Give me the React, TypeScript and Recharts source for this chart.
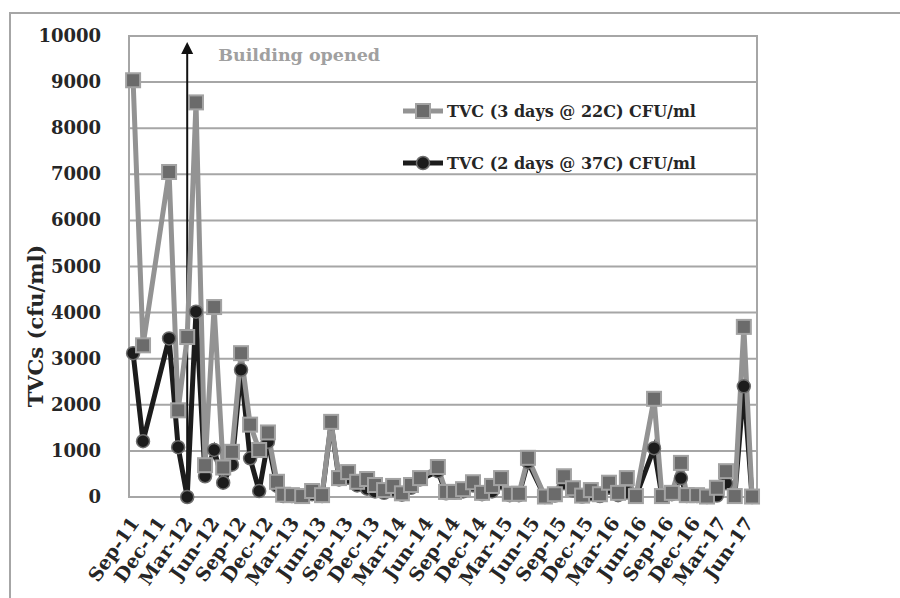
import {
  LineChart,
  Line,
  XAxis,
  YAxis,
  CartesianGrid,
  ReferenceArea,
  ReferenceLine,
} from "recharts";

// sample dates (approx)
const sampleDates = [
  "2011-09-15", "2011-10-19", "2012-01-16", "2012-02-16", "2012-03-18",
  "2012-04-17", "2012-05-18", "2012-06-18", "2012-07-19", "2012-08-18",
  "2012-09-18", "2012-10-19", "2012-11-19", "2012-12-19", "2013-01-19",
  "2013-02-09", "2013-03-11", "2013-04-15", "2013-05-19", "2013-06-22",
  "2013-07-23", "2013-08-19", "2013-09-19", "2013-10-20", "2013-11-23",
  "2013-12-20", "2014-01-20", "2014-02-20", "2014-03-22", "2014-04-22",
  "2014-05-23", "2014-07-23", "2014-08-20", "2014-09-16", "2014-10-17",
  "2014-11-20", "2014-12-21", "2015-01-24", "2015-02-24", "2015-03-26",
  "2015-04-26", "2015-05-27", "2015-07-24", "2015-08-27", "2015-09-27",
  "2015-10-28", "2015-11-28", "2015-12-28", "2016-01-28", "2016-02-28",
  "2016-03-30", "2016-04-29", "2016-05-30", "2016-07-31", "2016-08-27",
  "2016-09-30", "2016-10-31", "2016-11-20", "2016-12-25", "2017-01-28",
  "2017-03-03", "2017-04-03", "2017-05-03", "2017-06-03", "2017-07-01",
];

// TVC (3 days @ 22C) CFU/ml
const tvc22 = [
  9040, 3290, 7050, 1880, 3470, 8560, 690, 4120, 640, 980,
  3120, 1570, 1020, 1400, 330, 50, 40, 20, 130, 40,
  1630, 410, 540, 330, 390, 260, 150, 240, 80, 260,
  410, 650, 110, 110, 170, 320, 90, 240, 410, 70,
  70, 850, 10, 60, 450, 190, 30, 150, 60, 310,
  90, 410, 20, 2130, 20, 90, 740, 40, 40, 10,
  200, 560, 20, 3690, 10,
];

// TVC (2 days @ 37C) CFU/ml
const tvc37 = [
  3120, 1210, 3440, 1080, 0, 4020, 450, 1020, 310, 700,
  2760, 840, 130, 1200, 240, 20, 20, 10, 60, 20,
  1600, 380, 420, 250, 180, 120, 90, 150, 50, 200,
  380, 560, 80, 90, 120, 250, 60, 120, 300, 40,
  40, 760, 0, 30, 300, 140, 10, 60, 20, 200,
  40, 100, 10, 1060, 10, 60, 410, 20, 20, 0,
  30, 300, 10, 2400, 0,
];

const tickLabels = [
  "Sep-11", "Dec-11", "Mar-12", "Jun-12", "Sep-12", "Dec-12", "Mar-13", "Jun-13",
  "Sep-13", "Dec-13", "Mar-14", "Jun-14", "Sep-14", "Dec-14", "Mar-15", "Jun-15",
  "Sep-15", "Dec-15", "Mar-16", "Jun-16", "Sep-16", "Dec-16", "Mar-17", "Jun-17",
];

const yTicks = [0, 1000, 2000, 3000, 4000, 5000, 6000, 7000, 8000, 9000, 10000];

const buildingOpened = "2012-03-18";

const MONTHS = ["Jan", "Feb", "Mar", "Apr", "May", "Jun", "Jul", "Aug", "Sep", "Oct", "Nov", "Dec"];
const DAY = 86400000;
const FONT = "'DejaVu Serif', serif";
const GRID = "#a6a6a6";
const GRAY_LINE = "#939393";
const GRAY_FILL = "#6b6b6b";
const BLACK = "#1c1c1c";

function labelToTime(label: string) {
  const [mon, yy] = label.split("-");
  return Date.UTC(2000 + Number(yy), MONTHS.indexOf(mon), 15);
}

const xTicks = tickLabels.map(labelToTime);
const tStart = Date.parse(sampleDates[0]);
const domainX = [tStart - 14 * DAY, tStart + 2133 * DAY];

const data = sampleDates.map((d, i) => ({
  t: Date.parse(d),
  tvc22: tvc22[i],
  tvc37: tvc37[i],
}));

function formatTick(t: number) {
  const d = new Date(t);
  return `${MONTHS[d.getUTCMonth()]}-${String(d.getUTCFullYear()).slice(2)}`;
}

function XTick(props: any) {
  const { x, y, payload } = props;
  const ax = x + 7;
  const ay = y + 24;
  return (
    <text
      x={ax}
      y={ay}
      transform={`rotate(-55, ${ax}, ${ay})`}
      textAnchor="end"
      fontFamily={FONT}
      fontWeight="bold"
      fontSize={19}
      fill="#262626"
    >
      {formatTick(payload.value)}
    </text>
  );
}

function YTick(props: any) {
  const { y, payload } = props;
  return (
    <text
      x={101}
      y={y}
      dy={6}
      textAnchor="end"
      fontFamily={FONT}
      fontWeight="bold"
      fontSize={18}
      fill="#262626"
    >
      {payload.value}
    </text>
  );
}

function SquareDot(props: any) {
  const { cx, cy, index } = props;
  if (cx == null || cy == null) return null;
  return (
    <rect
      key={`sq-${index}`}
      x={cx - 7}
      y={cy - 7}
      width={14}
      height={14}
      fill={GRAY_FILL}
      stroke="#a3a3a3"
      strokeWidth={2}
    />
  );
}

function Arrow(props: any) {
  const { x1, y1, y2 } = props;
  const top = Math.min(y1, y2);
  const bottom = Math.max(y1, y2);
  return (
    <g>
      <line x1={x1} x2={x1} y1={bottom} y2={top + 10} stroke="#111" strokeWidth={2} />
      <polygon
        points={`${x1},${top} ${x1 - 6},${top + 12} ${x1 + 6},${top + 12}`}
        fill="#111"
      />
      <text
        x={x1 + 31}
        y={top + 19}
        fontFamily={FONT}
        fontWeight="bold"
        fontSize={17.5}
        fill="#a0a0a0"
      >
        Building opened
      </text>
    </g>
  );
}

function LegendBox() {
  const rows = [
    { label: "TVC (3 days @ 22C) CFU/ml", top: 0, square: true },
    { label: "TVC (2 days @ 37C) CFU/ml", top: 52, square: false },
  ];
  return (
    <div style={{ position: "absolute", left: 401, top: 101, width: 360, height: 70 }}>
      {rows.map((r) => (
        <div
          key={r.label}
          style={{
            position: "absolute",
            top: r.top,
            left: 0,
            display: "flex",
            alignItems: "center",
            height: 20,
          }}
        >
          <svg width={46} height={20}>
            <line
              x1={2}
              x2={42}
              y1={10}
              y2={10}
              stroke={r.square ? GRAY_LINE : BLACK}
              strokeWidth={5}
            />
            {r.square ? (
              <rect x={15} y={3} width={14} height={14} fill={GRAY_FILL} stroke="#a3a3a3" strokeWidth={2} />
            ) : (
              <circle cx={22} cy={10} r={6.5} fill={BLACK} stroke="#6e6e6e" strokeWidth={1.5} />
            )}
          </svg>
          <span
            style={{
              fontFamily: FONT,
              fontWeight: "bold",
              fontSize: 16,
              color: "#262626",
              whiteSpace: "nowrap",
            }}
          >
            {r.label}
          </span>
        </div>
      ))}
    </div>
  );
}

export default function App() {
  return (
    <div
      style={{
        position: "absolute",
        left: 0,
        top: 0,
        width: 900,
        height: 598,
        overflow: "hidden",
        background: "#fff",
      }}
    >
      {/* outer chart frame */}
      <div
        style={{
          position: "absolute",
          left: 9,
          top: 12,
          width: 1000,
          height: 1000,
          border: "2px solid #a6a6a6",
        }}
      />
      {/* axis title */}
      <div
        style={{
          position: "absolute",
          left: 35,
          top: 326,
          transform: "translate(-50%, -50%) rotate(-90deg)",
          fontFamily: FONT,
          fontWeight: "bold",
          fontSize: 21,
          color: "#262626",
          whiteSpace: "nowrap",
        }}
      >
        TVCs (cfu/ml)
      </div>
      <div style={{ position: "absolute", left: 0, top: 0 }}>
        <LineChart
          width={900}
          height={598}
          data={data}
          margin={{ top: 36, right: 143, bottom: 0, left: 0 }}
        >
          <CartesianGrid vertical={false} stroke={GRID} strokeWidth={2} />
          <XAxis
            type="number"
            dataKey="t"
            domain={domainX}
            ticks={xTicks}
            interval={0}
            height={101}
            axisLine={false}
            tickLine={false}
            tickSize={0}
            tick={<XTick />}
          />
          <YAxis
            type="number"
            domain={[0, 10000]}
            ticks={yTicks}
            width={129}
            axisLine={false}
            tickLine={false}
            tick={<YTick />}
          />
          <ReferenceArea
            x1={domainX[0]}
            x2={domainX[1]}
            y1={0}
            y2={10000}
            fill="none"
            stroke={GRID}
            strokeWidth={2}
            fillOpacity={0}
          />
          <ReferenceLine
            segment={[
              { x: Date.parse(buildingOpened), y: 0 },
              { x: Date.parse(buildingOpened), y: 9870 },
            ]}
            shape={<Arrow />}
          />
          <Line
            type="linear"
            dataKey="tvc37"
            name="TVC (2 days @ 37C) CFU/ml"
            stroke={BLACK}
            strokeWidth={5}
            dot={{ r: 6.5, fill: BLACK, stroke: "#6e6e6e", strokeWidth: 1.5 }}
            isAnimationActive={false}
          />
          <Line
            type="linear"
            dataKey="tvc22"
            name="TVC (3 days @ 22C) CFU/ml"
            stroke={GRAY_LINE}
            strokeWidth={5}
            dot={<SquareDot />}
            isAnimationActive={false}
          />
        </LineChart>
      </div>
      <LegendBox />
    </div>
  );
}
